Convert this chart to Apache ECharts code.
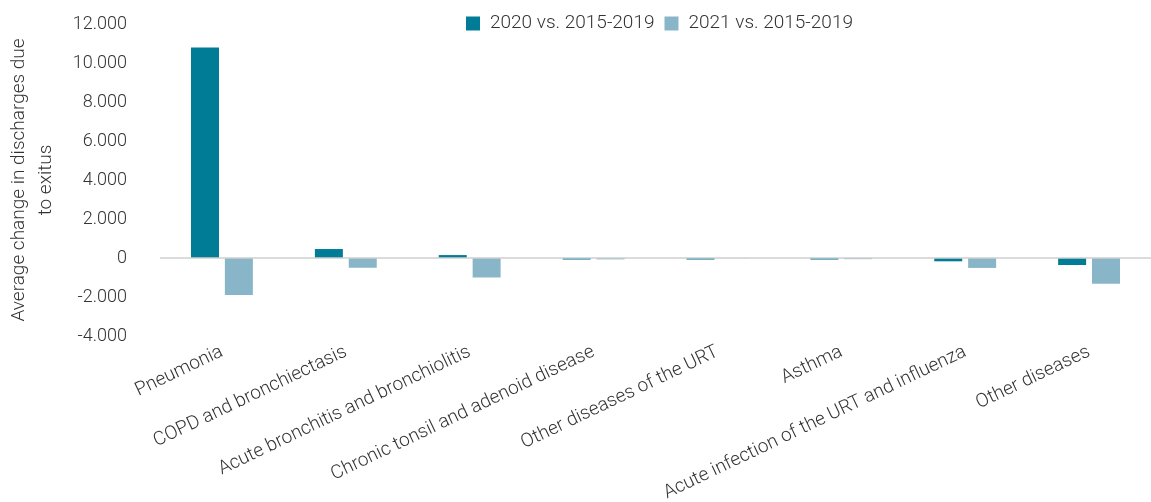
<!DOCTYPE html>
<html>
<head>
<meta charset="utf-8">
<script src="https://cdn.jsdelivr.net/npm/echarts@6/dist/echarts.min.js"></script>
<style>
  html, body { margin: 0; padding: 0; background: #fff; }
  #chart { width: 1151px; height: 502px; }
</style>
</head>
<body>
<div id="chart"></div>
<script>
// Respiratory disease groups
const categories = [
  'Pneumonia',
  'COPD and bronchiectasis',
  'Acute bronchitis and bronchiolitis',
  'Chronic tonsil and adenoid disease',
  'Other diseases of the URT',
  'Asthma',
  'Acute infection of the URT and influenza',
  'Other diseases'
];

const seriesNames = ['2020 vs. 2015-2019', '2021 vs. 2015-2019'];

// Average change in discharges due to exitus
const change2020 = [10800, 460, 150, -80, -80, -80, -170, -360];
const change2021 = [-1900, -500, -1000, -70, -10, -60, -510, -1320];

const yTicks = { min: -4000, max: 12000, interval: 2000 };

const darkTeal = '#007C96';
const lightTeal = '#88B6C8';
const textColor = '#333333';
const fontFamily = 'Roboto';

// Thousands separated with a dot
function fmt(v) {
  const s = Math.abs(v).toString().replace(/\B(?=(\d{3})+(?!\d))/g, '.');
  return (v < 0 ? '-' : '') + s;
}

const chart = echarts.init(document.getElementById('chart'), null, { renderer: 'canvas' });

chart.setOption({
  animation: false,
  backgroundColor: '#ffffff',
  textStyle: { fontFamily: fontFamily, fontWeight: 300, color: textColor },
  legend: {
    top: 9,
    left: 461,
    itemWidth: 14,
    itemHeight: 14,
    itemGap: 10,
    icon: 'rect',
    textStyle: { fontFamily: fontFamily, fontWeight: 300, fontSize: 19, color: textColor, padding: [0, 0, 0, 5] },
    data: seriesNames
  },
  grid: { left: 160, right: 0, top: 24, height: 312, containLabel: false, outerBoundsMode: 'none' },
  xAxis: {
    type: 'category',
    data: categories,
    axisLine: { show: false, onZero: false },
    axisTick: { show: false },
    axisLabel: {
      interval: 0,
      rotate: 25.5,
      margin: 15,
      fontFamily: fontFamily,
      fontWeight: 300,
      fontSize: 19,
      color: textColor
    }
  },
  yAxis: {
    type: 'value',
    min: yTicks.min,
    max: yTicks.max,
    interval: yTicks.interval,
    name: 'Average change in discharges due\nto exitus',
    nameLocation: 'middle',
    nameGap: 100,
    nameTextStyle: { fontFamily: fontFamily, fontWeight: 300, fontSize: 19, color: textColor, lineHeight: 27 },
    axisLine: { show: false },
    axisTick: { show: false },
    splitLine: { show: false },
    axisLabel: {
      margin: 33,
      fontFamily: fontFamily,
      fontWeight: 300,
      fontSize: 18,
      color: textColor,
      formatter: fmt
    }
  },
  series: [
    {
      name: seriesNames[0],
      type: 'bar',
      data: change2020,
      barWidth: 28,
      barGap: '21%',
      itemStyle: { color: darkTeal },
      markLine: {
        silent: true,
        symbol: 'none',
        label: { show: false },
        lineStyle: { color: '#cfcfcf', width: 1.5, type: 'solid' },
        data: [{ yAxis: 0 }]
      }
    },
    {
      name: seriesNames[1],
      type: 'bar',
      data: change2021,
      barWidth: 28,
      barGap: '21%',
      itemStyle: { color: lightTeal }
    }
  ]
});
</script>
</body>
</html>
